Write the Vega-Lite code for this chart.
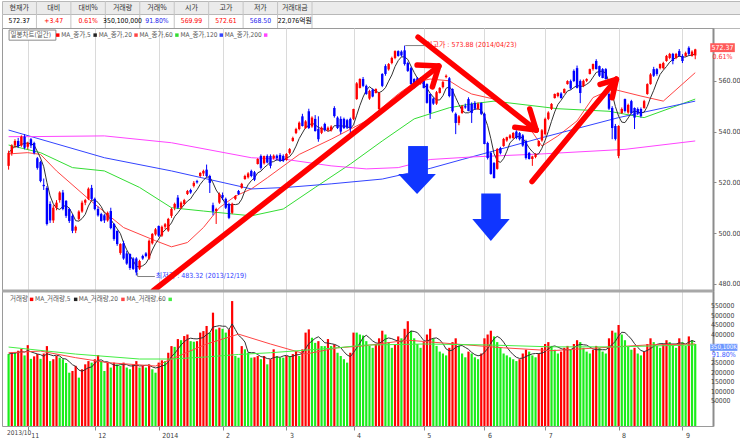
{
"$schema": "https://vega.github.io/schema/vega-lite/v6.json",
"background": "#ffffff",
"padding": 0,
"spacing": 0,
"bounds": "flush",
"resolve": {"scale": {"color": "independent"}},
"config": {
  "font": "Liberation Sans Narrow, DejaVu Sans Condensed, Liberation Sans, Noto Sans CJK KR",
  "view": {"stroke": "#a0a0a0", "strokeWidth": 1},
  "axis": {"title": null, "labelFont": "Liberation Sans Narrow, DejaVu Sans Condensed, Liberation Sans", "labelFontSize": 7, "labelColor": "#404040", "domainColor": "#8c8c8c", "tickColor": "#8c8c8c", "labelOverlap": false},
  "text": {"font": "Liberation Sans Narrow, DejaVu Sans Condensed, Liberation Sans, Noto Sans CJK KR"}
},
"datasets": {
  "k": [
{"i":0,"o":526.5,"h":532.5,"l":525,"c":531.6,"v":297000},
{"i":1,"o":531.5,"h":535,"l":530.5,"c":534.5,"v":305000},
{"i":2,"o":534.5,"h":537,"l":533.5,"c":536.3,"v":305000},
{"i":3,"o":536.3,"h":537.5,"l":533.5,"c":534.3,"v":315000},
{"i":4,"o":534.5,"h":538.5,"l":534,"c":538,"v":324000},
{"i":5,"o":538,"h":539,"l":533,"c":533.6,"v":290000},
{"i":6,"o":534,"h":536,"l":533,"c":535.5,"v":344000},
{"i":7,"o":537,"h":537.5,"l":533.5,"c":534.5,"v":272000},
{"i":8,"o":535.5,"h":536,"l":531,"c":531.6,"v":285000},
{"i":9,"o":529.5,"h":530,"l":525,"c":525.7,"v":297000},
{"i":10,"o":528,"h":528.5,"l":520,"c":520.5,"v":272000},
{"i":11,"o":519,"h":521.5,"l":517,"c":518.5,"v":300000},
{"i":12,"o":517.8,"h":518.5,"l":503,"c":503.6,"v":339000},
{"i":13,"o":511.5,"h":512.5,"l":504,"c":505,"v":260000},
{"i":14,"o":505,"h":511,"l":504,"c":510,"v":270000},
{"i":15,"o":510,"h":513,"l":509,"c":512,"v":287000},
{"i":16,"o":513,"h":516.5,"l":512,"c":516,"v":278000},
{"i":17,"o":516,"h":517,"l":509,"c":509.5,"v":270000},
{"i":18,"o":512.7,"h":513,"l":506,"c":506.8,"v":250000},
{"i":19,"o":509.5,"h":510,"l":504,"c":504.8,"v":199000},
{"i":20,"o":506.8,"h":507.5,"l":500,"c":500.9,"v":208000},
{"i":21,"o":501,"h":503,"l":500,"c":502.5,"v":235000},
{"i":22,"o":505.6,"h":509,"l":505,"c":508.5,"v":173000},
{"i":23,"o":508.5,"h":512.8,"l":508,"c":512,"v":217000},
{"i":24,"o":512,"h":513.5,"l":511,"c":513,"v":243000},
{"i":25,"o":513.5,"h":518,"l":513,"c":517.5,"v":260000},
{"i":26,"o":517.8,"h":519,"l":513,"c":513.5,"v":252000},
{"i":27,"o":513.5,"h":514,"l":509,"c":509.5,"v":270000},
{"i":28,"o":509.5,"h":510.5,"l":506.5,"c":507,"v":292000},
{"i":29,"o":507.5,"h":508,"l":504.5,"c":504.8,"v":260000},
{"i":30,"o":507,"h":507.5,"l":504,"c":505,"v":208000},
{"i":31,"o":505,"h":508.5,"l":504.5,"c":508,"v":252000},
{"i":32,"o":508.7,"h":510,"l":501.5,"c":502,"v":226000},
{"i":33,"o":503.6,"h":504,"l":497,"c":497.7,"v":252000},
{"i":34,"o":500.9,"h":501,"l":495,"c":495.7,"v":243000},
{"i":35,"o":492.2,"h":496,"l":491.5,"c":495.7,"v":235000},
{"i":36,"o":496,"h":497,"l":489.5,"c":490,"v":252000},
{"i":37,"o":492,"h":493,"l":487.5,"c":488,"v":226000},
{"i":38,"o":491.8,"h":492,"l":485.5,"c":486.3,"v":217000},
{"i":39,"o":490,"h":490.5,"l":485.5,"c":485.9,"v":243000},
{"i":40,"o":490,"h":490.5,"l":483.32,"c":484.5,"v":260000},
{"i":41,"o":486,"h":489.5,"l":485.5,"c":489,"v":226000},
{"i":42,"o":491,"h":491.5,"l":489.5,"c":490,"v":235000},
{"i":43,"o":492,"h":492.5,"l":490.5,"c":491,"v":226000},
{"i":44,"o":490,"h":497.5,"l":489.5,"c":497,"v":243000},
{"i":45,"o":496,"h":500,"l":495.5,"c":499.7,"v":217000},
{"i":46,"o":499.5,"h":502,"l":499,"c":501.5,"v":199000},
{"i":47,"o":502.8,"h":503,"l":498.5,"c":499,"v":252000},
{"i":48,"o":499,"h":503,"l":498.5,"c":502.5,"v":264000},
{"i":49,"o":502.5,"h":504,"l":501.5,"c":503.5,"v":260000},
{"i":50,"o":501,"h":506,"l":500.5,"c":505.6,"v":304000},
{"i":51,"o":506.8,"h":510,"l":506,"c":509.5,"v":339000},
{"i":52,"o":510,"h":512,"l":509,"c":511.5,"v":335000},
{"i":53,"o":514,"h":515,"l":509.5,"c":510,"v":376000},
{"i":54,"o":510,"h":512.5,"l":509.5,"c":512,"v":370000},
{"i":55,"o":511.5,"h":513.5,"l":511,"c":513,"v":392000},
{"i":56,"o":515.4,"h":517,"l":515,"c":516.6,"v":400000},
{"i":57,"o":517,"h":517.5,"l":515.5,"c":516,"v":365000},
{"i":58,"o":518.6,"h":520.5,"l":518,"c":519.8,"v":362000},
{"i":59,"o":520.5,"h":521,"l":519.5,"c":520,"v":365000},
{"i":60,"o":522.5,"h":524,"l":522,"c":523.7,"v":410000},
{"i":61,"o":523.5,"h":525,"l":522.5,"c":524.5,"v":418000},
{"i":62,"o":525,"h":527,"l":522,"c":522.5,"v":445000},
{"i":63,"o":522.5,"h":523,"l":515.8,"c":519.8,"v":410000},
{"i":64,"o":511,"h":512,"l":507,"c":508.5,"v":515000},
{"i":65,"o":508.7,"h":510,"l":503.6,"c":509.5,"v":427000},
{"i":66,"o":512,"h":516,"l":511.5,"c":515.4,"v":436000},
{"i":67,"o":515,"h":516,"l":513,"c":514,"v":430000},
{"i":68,"o":513.5,"h":514,"l":509.5,"c":510,"v":410000},
{"i":69,"o":511.5,"h":512,"l":505.5,"c":506,"v":427000},
{"i":70,"o":508,"h":512,"l":507.5,"c":511.5,"v":576000},
{"i":71,"o":513.5,"h":515,"l":513,"c":514.6,"v":287000},
{"i":72,"o":516.6,"h":517,"l":515,"c":515.4,"v":278000},
{"i":73,"o":517.8,"h":519.8,"l":517.5,"c":519.4,"v":339000},
{"i":74,"o":521.3,"h":523,"l":521,"c":522.5,"v":322000},
{"i":75,"o":522,"h":524,"l":521.5,"c":523.5,"v":304000},
{"i":76,"o":524.5,"h":525,"l":522,"c":522.5,"v":278000},
{"i":77,"o":524,"h":524.5,"l":520.5,"c":521,"v":280000},
{"i":78,"o":527.2,"h":529.5,"l":527,"c":529.2,"v":287000},
{"i":79,"o":530.4,"h":531,"l":525,"c":525.7,"v":270000},
{"i":80,"o":527.5,"h":530.5,"l":527,"c":530.4,"v":287000},
{"i":81,"o":530.4,"h":531,"l":527.5,"c":527.8,"v":243000},
{"i":82,"o":530.4,"h":531,"l":525.5,"c":526.5,"v":270000},
{"i":83,"o":529.5,"h":531,"l":529,"c":530.5,"v":322000},
{"i":84,"o":530.5,"h":531,"l":528.5,"c":529.5,"v":287000},
{"i":85,"o":530.8,"h":531.5,"l":528,"c":528.4,"v":278000},
{"i":86,"o":530.4,"h":531,"l":528,"c":528.5,"v":278000},
{"i":87,"o":528.8,"h":531.5,"l":528.5,"c":531.2,"v":287000},
{"i":88,"o":531.6,"h":533.5,"l":531,"c":533.1,"v":287000},
{"i":89,"o":536.3,"h":538,"l":536,"c":537.5,"v":297000},
{"i":90,"o":539.4,"h":541.5,"l":539,"c":541,"v":313000},
{"i":91,"o":541,"h":544,"l":540.5,"c":543.5,"v":287000},
{"i":92,"o":546,"h":547,"l":542,"c":542.2,"v":322000},
{"i":93,"o":541.4,"h":544.5,"l":541,"c":544,"v":410000},
{"i":94,"o":548,"h":549,"l":541,"c":541.4,"v":427000},
{"i":95,"o":542,"h":546,"l":541.5,"c":545.5,"v":383000},
{"i":96,"o":545,"h":546.5,"l":540,"c":540.2,"v":356000},
{"i":97,"o":541,"h":546,"l":536,"c":537,"v":365000},
{"i":98,"o":539.5,"h":542,"l":539,"c":541.5,"v":339000},
{"i":99,"o":543,"h":543.5,"l":540,"c":540.5,"v":339000},
{"i":100,"o":540.5,"h":542,"l":540,"c":541.5,"v":376000},
{"i":101,"o":540.5,"h":542.5,"l":540,"c":542,"v":339000},
{"i":102,"o":549.3,"h":550,"l":545.5,"c":546.1,"v":348000},
{"i":103,"o":545.5,"h":546,"l":541,"c":541.4,"v":304000},
{"i":104,"o":545,"h":546,"l":539,"c":540,"v":287000},
{"i":105,"o":545,"h":545.5,"l":541,"c":541.4,"v":270000},
{"i":106,"o":544.5,"h":545,"l":541,"c":541.5,"v":252000},
{"i":107,"o":545,"h":545.5,"l":539,"c":541.4,"v":304000},
{"i":108,"o":545,"h":549,"l":544.5,"c":548.9,"v":410000},
{"i":109,"o":552.8,"h":559.5,"l":552.5,"c":559,"v":410000},
{"i":110,"o":557.2,"h":561,"l":557,"c":560.7,"v":400000},
{"i":111,"o":560.7,"h":561.5,"l":557.5,"c":558,"v":395000},
{"i":112,"o":558,"h":558.5,"l":554.5,"c":554.8,"v":365000},
{"i":113,"o":553,"h":556.5,"l":552.5,"c":556,"v":340000},
{"i":114,"o":556.5,"h":557,"l":553.5,"c":553.8,"v":330000},
{"i":115,"o":555.2,"h":557,"l":555,"c":556.8,"v":350000},
{"i":116,"o":548.9,"h":555.5,"l":548,"c":555.2,"v":380000},
{"i":117,"o":562.7,"h":563,"l":557.5,"c":558,"v":420000},
{"i":118,"o":565.8,"h":566.5,"l":562,"c":562.7,"v":400000},
{"i":119,"o":564.5,"h":567,"l":564,"c":566.6,"v":360000},
{"i":120,"o":567,"h":569.5,"l":566.5,"c":569,"v":330000},
{"i":121,"o":569,"h":572,"l":568.5,"c":571.7,"v":345000},
{"i":122,"o":571.7,"h":572,"l":569.5,"c":569.8,"v":390000},
{"i":123,"o":571.5,"h":572,"l":569.5,"c":570,"v":380000},
{"i":124,"o":572,"h":573.88,"l":566,"c":566.6,"v":430000},
{"i":125,"o":567,"h":567.5,"l":563.5,"c":563.9,"v":470000},
{"i":126,"o":565,"h":565.5,"l":558.5,"c":558.7,"v":420000},
{"i":127,"o":560.7,"h":561,"l":557,"c":557.2,"v":380000},
{"i":128,"o":561,"h":561.5,"l":558.5,"c":558.7,"v":350000},
{"i":129,"o":559,"h":561.5,"l":558.5,"c":561,"v":330000},
{"i":130,"o":560,"h":560.5,"l":557,"c":557.2,"v":360000},
{"i":131,"o":558.7,"h":559,"l":551,"c":551.3,"v":400000},
{"i":132,"o":554.8,"h":555,"l":545,"c":547.3,"v":430000},
{"i":133,"o":553,"h":553.5,"l":550.5,"c":551,"v":380000},
{"i":134,"o":551,"h":556,"l":550.5,"c":555.5,"v":340000},
{"i":135,"o":555.2,"h":557.5,"l":555,"c":557.2,"v":310000},
{"i":136,"o":557.5,"h":560,"l":557,"c":559.5,"v":300000},
{"i":137,"o":561.5,"h":562.5,"l":561,"c":562,"v":290000},
{"i":138,"o":561,"h":561.5,"l":553.5,"c":554,"v":330000},
{"i":139,"o":556.8,"h":557,"l":547.5,"c":548,"v":360000},
{"i":140,"o":547,"h":547.5,"l":539,"c":543.4,"v":380000},
{"i":141,"o":543.4,"h":546.5,"l":542.5,"c":546,"v":340000},
{"i":142,"o":547.3,"h":550.5,"l":547,"c":550,"v":300000},
{"i":143,"o":550,"h":551,"l":549,"c":549.5,"v":280000},
{"i":144,"o":552.8,"h":553.5,"l":548,"c":548.1,"v":310000},
{"i":145,"o":550.9,"h":551.5,"l":543.4,"c":547.3,"v":300000},
{"i":146,"o":551.3,"h":552,"l":548.5,"c":549,"v":280000},
{"i":147,"o":549,"h":551.5,"l":548.5,"c":551,"v":270000},
{"i":148,"o":551.3,"h":551.5,"l":546.5,"c":547,"v":300000},
{"i":149,"o":547,"h":547.5,"l":535,"c":535.1,"v":380000},
{"i":150,"o":535.5,"h":536,"l":529,"c":529.6,"v":400000},
{"i":151,"o":531.6,"h":532,"l":523,"c":523.3,"v":420000},
{"i":152,"o":527.6,"h":528,"l":521.5,"c":521.7,"v":390000},
{"i":153,"o":525.3,"h":533.5,"l":525,"c":533.1,"v":360000},
{"i":154,"o":533.5,"h":534,"l":531,"c":531.5,"v":330000},
{"i":155,"o":534.3,"h":537.5,"l":534,"c":537.1,"v":300000},
{"i":156,"o":536.5,"h":538,"l":536,"c":537.8,"v":290000},
{"i":157,"o":537.5,"h":539,"l":537,"c":538.5,"v":280000},
{"i":158,"o":537.5,"h":539.8,"l":537,"c":539.4,"v":270000},
{"i":159,"o":540,"h":540.5,"l":537,"c":537.5,"v":260000},
{"i":160,"o":539.4,"h":539.8,"l":536.5,"c":537,"v":270000},
{"i":161,"o":538.5,"h":539,"l":534,"c":534.5,"v":300000},
{"i":162,"o":536.3,"h":536.8,"l":529,"c":529.6,"v":320000},
{"i":163,"o":531.6,"h":532,"l":529,"c":529.2,"v":310000},
{"i":164,"o":529.2,"h":530.5,"l":526.5,"c":530.2,"v":290000},
{"i":165,"o":530,"h":531.5,"l":529.5,"c":531,"v":280000},
{"i":166,"o":534.3,"h":536.5,"l":534,"c":536.3,"v":300000},
{"i":167,"o":536.5,"h":541,"l":536,"c":540.5,"v":330000},
{"i":168,"o":539,"h":545.5,"l":538.5,"c":545,"v":350000},
{"i":169,"o":545,"h":548,"l":544.5,"c":547.5,"v":360000},
{"i":170,"o":548.9,"h":551.2,"l":548.5,"c":550.9,"v":340000},
{"i":171,"o":553.2,"h":555,"l":553,"c":554.8,"v":320000},
{"i":172,"o":554,"h":555.5,"l":553.5,"c":555.2,"v":300000},
{"i":173,"o":555,"h":555.5,"l":553,"c":553.2,"v":310000},
{"i":174,"o":555.2,"h":557,"l":555,"c":556.8,"v":330000},
{"i":175,"o":558.7,"h":560.2,"l":558.5,"c":559.9,"v":340000},
{"i":176,"o":559.9,"h":560.5,"l":556.5,"c":557,"v":320000},
{"i":177,"o":563.9,"h":564.5,"l":559.5,"c":559.9,"v":350000},
{"i":178,"o":565,"h":566,"l":557,"c":557.2,"v":370000},
{"i":179,"o":559.9,"h":560.5,"l":551.2,"c":555.2,"v":360000},
{"i":180,"o":558,"h":560.5,"l":557.5,"c":560,"v":330000},
{"i":181,"o":560,"h":561,"l":559.5,"c":560.7,"v":310000},
{"i":182,"o":562.7,"h":564.8,"l":562.5,"c":564.6,"v":300000},
{"i":183,"o":564.6,"h":566.8,"l":564,"c":566.6,"v":320000},
{"i":184,"o":567.8,"h":568.5,"l":564.5,"c":564.6,"v":340000},
{"i":185,"o":565.8,"h":566,"l":561.5,"c":562,"v":330000},
{"i":186,"o":564.6,"h":565,"l":561,"c":561.1,"v":310000},
{"i":187,"o":564.6,"h":565,"l":560.5,"c":560.7,"v":300000},
{"i":188,"o":554.8,"h":555.5,"l":548.5,"c":549,"v":380000},
{"i":189,"o":549.3,"h":550,"l":537,"c":541.4,"v":420000},
{"i":190,"o":542.2,"h":543,"l":536.5,"c":537.1,"v":410000},
{"i":191,"o":530.4,"h":542.5,"l":529.5,"c":542.2,"v":450000},
{"i":192,"o":547.3,"h":549.5,"l":547,"c":548.9,"v":400000},
{"i":193,"o":552.8,"h":553,"l":547.5,"c":548.1,"v":370000},
{"i":194,"o":547.5,"h":551,"l":547,"c":550.5,"v":340000},
{"i":195,"o":552,"h":552.5,"l":547,"c":547.3,"v":320000},
{"i":196,"o":549.3,"h":549.5,"l":541,"c":545.5,"v":330000},
{"i":197,"o":548.9,"h":549.5,"l":546.5,"c":547.3,"v":300000},
{"i":198,"o":548.9,"h":549.5,"l":545.5,"c":546.1,"v":290000},
{"i":199,"o":549.3,"h":552.5,"l":549,"c":552,"v":310000},
{"i":200,"o":554.8,"h":559,"l":554.5,"c":558.7,"v":350000},
{"i":201,"o":558.7,"h":563,"l":558.5,"c":562.5,"v":380000},
{"i":202,"o":564.6,"h":565.5,"l":561.5,"c":562,"v":360000},
{"i":203,"o":564.6,"h":565,"l":562,"c":562.7,"v":340000},
{"i":204,"o":565,"h":566.8,"l":564.5,"c":566.6,"v":330000},
{"i":205,"o":565,"h":567.5,"l":564.5,"c":567,"v":350000},
{"i":206,"o":567.8,"h":570.2,"l":567.5,"c":569.8,"v":370000},
{"i":207,"o":569,"h":571,"l":568.5,"c":570.6,"v":360000},
{"i":208,"o":570.6,"h":571,"l":566.5,"c":567.8,"v":340000},
{"i":209,"o":569,"h":571,"l":568.5,"c":570.6,"v":330000},
{"i":210,"o":571.7,"h":572.5,"l":569.5,"c":569.8,"v":380000},
{"i":211,"o":569.8,"h":570.5,"l":567,"c":567.8,"v":360000},
{"i":212,"o":569.8,"h":571.5,"l":569.5,"c":571,"v":340000},
{"i":213,"o":573,"h":573.6,"l":570,"c":570.6,"v":390000},
{"i":214,"o":569.8,"h":572,"l":569.5,"c":571.5,"v":370000},
{"i":215,"o":569.99,"h":572.61,"l":568.5,"c":572.37,"v":350100}
  ],
  "ma": [
{"s":"ma20","i":0,"p":531.2},{"s":"ma20","i":6,"p":531.7},{"s":"ma20","i":10,"p":531},{"s":"ma20","i":15,"p":524.5},{"s":"ma20","i":25,"p":513.5},{"s":"ma20","i":36,"p":502.2},{"s":"ma20","i":46,"p":497},{"s":"ma20","i":51,"p":494.6},{"s":"ma20","i":56,"p":496.3},{"s":"ma20","i":61,"p":502.2},{"s":"ma20","i":66,"p":510},{"s":"ma20","i":71,"p":514.6},{"s":"ma20","i":76,"p":517.4},{"s":"ma20","i":81,"p":521.8},{"s":"ma20","i":91,"p":531},{"s":"ma20","i":101,"p":537},{"s":"ma20","i":112,"p":544.2},{"s":"ma20","i":122,"p":554.8},{"s":"ma20","i":127,"p":559.3},{"s":"ma20","i":132,"p":560.7},{"s":"ma20","i":138,"p":560},{"s":"ma20","i":142,"p":556.8},{"s":"ma20","i":145,"p":554.8},{"s":"ma20","i":152,"p":552.8},{"s":"ma20","i":162,"p":543.5},{"s":"ma20","i":167,"p":534.3},{"s":"ma20","i":172,"p":538.3},{"s":"ma20","i":178,"p":544.2},{"s":"ma20","i":183,"p":553.4},{"s":"ma20","i":189,"p":556.8},{"s":"ma20","i":198,"p":554},{"s":"ma20","i":205,"p":552},{"s":"ma20","i":215,"p":563.2},
{"s":"ma60","i":0,"p":534.7},{"s":"ma60","i":10,"p":531.7},{"s":"ma60","i":20,"p":525.8},{"s":"ma60","i":30,"p":524.5},{"s":"ma60","i":41,"p":518},{"s":"ma60","i":51,"p":510},{"s":"ma60","i":61,"p":508.7},{"s":"ma60","i":76,"p":506.8},{"s":"ma60","i":86,"p":509.5},{"s":"ma60","i":96,"p":518},{"s":"ma60","i":107,"p":527.2},{"s":"ma60","i":117,"p":536.3},{"s":"ma60","i":127,"p":545},{"s":"ma60","i":138,"p":549.4},{"s":"ma60","i":145,"p":550.9},{"s":"ma60","i":152,"p":552},{"s":"ma60","i":162,"p":550.5},{"s":"ma60","i":172,"p":549},{"s":"ma60","i":188,"p":548},{"s":"ma60","i":199,"p":545.5},{"s":"ma60","i":215,"p":552.8},
{"s":"ma120","i":0,"p":540.6},{"s":"ma120","i":30,"p":529.7},{"s":"ma120","i":51,"p":524.5},{"s":"ma120","i":76,"p":517.4},{"s":"ma120","i":87,"p":518},{"s":"ma120","i":101,"p":519.4},{"s":"ma120","i":117,"p":521.3},{"s":"ma120","i":132,"p":525.5},{"s":"ma120","i":142,"p":529},{"s":"ma120","i":152,"p":532.4},{"s":"ma120","i":167,"p":537.6},{"s":"ma120","i":191,"p":545.5},{"s":"ma120","i":215,"p":552},
{"s":"ma200","i":0,"p":538},{"s":"ma200","i":6,"p":538},{"s":"ma200","i":30,"p":538.3},{"s":"ma200","i":51,"p":535.6},{"s":"ma200","i":76,"p":529.7},{"s":"ma200","i":87,"p":529},{"s":"ma200","i":101,"p":526.5},{"s":"ma200","i":112,"p":525.3},{"s":"ma200","i":122,"p":525.8},{"s":"ma200","i":132,"p":529},{"s":"ma200","i":145,"p":530},{"s":"ma200","i":167,"p":531.2},{"s":"ma200","i":193,"p":533},{"s":"ma200","i":215,"p":536.3}
  ],
  "vma": [
{"s":"vma20","i":0,"v":304000},{"s":"vma20","i":10,"v":313000},{"s":"vma20","i":21,"v":278000},{"s":"vma20","i":31,"v":252000},{"s":"vma20","i":46,"v":234000},{"s":"vma20","i":51,"v":271000},{"s":"vma20","i":62,"v":350000},{"s":"vma20","i":72,"v":402000},{"s":"vma20","i":82,"v":350000},{"s":"vma20","i":93,"v":297000},{"s":"vma20","i":103,"v":330000},{"s":"vma20","i":111,"v":340000},{"s":"vma20","i":125,"v":370000},{"s":"vma20","i":140,"v":350000},{"s":"vma20","i":155,"v":330000},{"s":"vma20","i":170,"v":315000},{"s":"vma20","i":185,"v":330000},{"s":"vma20","i":200,"v":345000},{"s":"vma20","i":215,"v":350000},
{"s":"vma60","i":0,"v":334000},{"s":"vma60","i":21,"v":297000},{"s":"vma60","i":41,"v":271000},{"s":"vma60","i":51,"v":271000},{"s":"vma60","i":62,"v":282000},{"s":"vma60","i":72,"v":295000},{"s":"vma60","i":82,"v":304000},{"s":"vma60","i":103,"v":330000},{"s":"vma60","i":111,"v":344000},{"s":"vma60","i":130,"v":350000},{"s":"vma60","i":150,"v":345000},{"s":"vma60","i":170,"v":335000},{"s":"vma60","i":190,"v":335000},{"s":"vma60","i":215,"v":345000}
  ],
  "vticks": [{"v":50000},{"v":100000},{"v":150000},{"v":200000},{"v":250000},{"v":400000},{"v":450000},{"v":500000},{"v":550000}],
  "arrows": [
{"g":"a1s","o":1,"i":45.3,"p":477.3},{"g":"a1s","o":2,"i":134.7,"p":565.8},
{"g":"a1a","o":1,"i":134.7,"p":565.8},{"g":"a1a","o":2,"i":127.9,"p":566.2},
{"g":"a1b","o":1,"i":134.7,"p":565.8},{"g":"a1b","o":2,"i":132.7,"p":557.6},
{"g":"a2s","o":1,"i":128.2,"p":577.2},{"g":"a2s","o":2,"i":165.2,"p":540.6},
{"g":"a2a","o":1,"i":165.2,"p":540.6},{"g":"a2a","o":2,"i":158.5,"p":541.7},
{"g":"a2b","o":1,"i":165.2,"p":540.6},{"g":"a2b","o":2,"i":163.2,"p":548.9},
{"g":"a3s","o":1,"i":163.9,"p":520.3},{"g":"a3s","o":2,"i":190.3,"p":560.6},
{"g":"a3a","o":1,"i":190.3,"p":560.6},{"g":"a3a","o":2,"i":185.2,"p":558.6},
{"g":"a3b","o":1,"i":190.3,"p":560.6},{"g":"a3b","o":2,"i":189.0,"p":553.3}
  ],
  "bshaft": [
{"g":"b1","i":125.1,"i2":131.3,"p":534.3,"p2":523.0},
{"g":"b2","i":148.0,"i2":154.1,"p":515.6,"p2":505.4}
  ],
  "bhead": [
{"g":"b1","i":122.0,"p":523.3,"p2":523.3},{"g":"b1","i":127.9,"p":523.3,"p2":515.4},{"g":"b1","i":133.8,"p":523.3,"p2":523.3},
{"g":"b2","i":145.2,"p":505.6,"p2":505.6},{"g":"b2","i":151.0,"p":505.6,"p2":496.9},{"g":"b2","i":156.9,"p":505.6,"p2":505.6}
  ]
},
"vconcat": [
  {
    "width": 740, "height": 13,
    "view": {"fill": "#ebebeb", "stroke": "#b8b8b8"},
    "data": {"values": [{"k":"현재가"},{"k":"대비"},{"k":"대비%"},{"k":"거래량"},{"k":"거래%"},{"k":"시가"},{"k":"고가"},{"k":"저가"},{"k":"거래대금"}]},
    "layer": [
      {"mark": {"type": "rule", "color": "#c4c4c4"},
       "encoding": {"x": {"field": "k", "type": "nominal", "bandPosition": 1, "sort": null, "scale": {"range": [0, 310], "paddingInner": 0, "paddingOuter": 0}, "axis": null}}},
      {"mark": {"type": "text", "fontSize": 7, "color": "#303030", "font": "Noto Sans CJK KR"},
       "encoding": {"x": {"field": "k", "type": "nominal", "sort": null, "axis": null}, "text": {"field": "k"}}}
    ]
  },
  {
    "width": 740, "height": 14,
    "view": {"fill": "#ffffff", "stroke": "#b8b8b8"},
    "data": {"values": [{"k":"현재가","t":"572.37"},{"k":"대비","t":"+3.47"},{"k":"대비%","t":"0.61%"},{"k":"거래량","t":"350,100,000"},{"k":"거래%","t":"91.80%"},{"k":"시가","t":"569.99"},{"k":"고가","t":"572.61"},{"k":"저가","t":"568.50"},{"k":"거래대금","t":"22,076억원"}]},
    "layer": [
      {"mark": {"type": "rule", "color": "#c4c4c4"},
       "encoding": {"x": {"field": "k", "type": "nominal", "bandPosition": 1, "sort": null, "scale": {"range": [0, 310], "paddingInner": 0, "paddingOuter": 0}, "axis": null}}},
      {"mark": {"type": "text", "fontSize": 6.8},
       "encoding": {"x": {"field": "k", "type": "nominal", "sort": null, "axis": null}, "text": {"field": "t"},
         "color": {"field": "k", "type": "nominal", "legend": null, "scale": {"domain": ["현재가","대비","대비%","거래량","거래%","시가","고가","저가","거래대금"], "range": ["#000000","#ff0000","#ff0000","#000000","#2222ee","#ff0000","#ff0000","#2222ee","#000000"]}}}}
    ]
  },
  {
    "width": 711, "height": 263,
    "view": {"stroke": "#9a9a9a"},
    "layer": [
      {"data": {"name": "ma"}, "mark": {"type": "line", "strokeWidth": 1},
       "encoding": {
         "x": {"field": "i", "type": "quantitative", "scale": {"domain": [-0.5, 219], "nice": false, "zero": false},
               "axis": {"orient": "bottom", "values": [6,27,47,67,87,108,130,149,168,191,211], "grid": true, "gridColor": "#dadada", "labels": false, "ticks": false, "domain": false}},
         "y": {"field": "p", "type": "quantitative", "scale": {"domain": [477.2, 580.8], "nice": false, "zero": false},
               "axis": {"orient": "right", "values": [480,490,500,510,520,530,540,550,560], "format": ".2f", "grid": false, "tickSize": 3, "labelPadding": 2, "domainWidth": 2, "labelOverlap": false}},
         "color": {"field": "s", "type": "nominal", "legend": null, "scale": {"domain": ["candle","ma5","ma20","ma60","ma120","ma200"], "range": ["#ff0000","#222222","#ff4444","#33dd33","#3344ff","#ff44ff"]}},
         "detail": {"field": "s"}
       }},
      {"data": {"name": "k"},
       "transform": [{"window": [{"op": "mean", "field": "c", "as": "m5"}], "frame": [-4, 0], "sort": [{"field": "i"}]}],
       "mark": {"type": "line", "strokeWidth": 1, "color": "#333333"},
       "encoding": {"x": {"field": "i", "type": "quantitative"}, "y": {"field": "m5", "type": "quantitative"}}},
      {"data": {"name": "k"}, "mark": {"type": "rule", "strokeWidth": 1},
       "encoding": {"x": {"field": "i", "type": "quantitative"}, "y": {"field": "l", "type": "quantitative"}, "y2": {"field": "h"},
         "color": {"condition": {"test": "datum.c >= datum.o", "value": "#ff0000"}, "value": "#0000ff"}}},
      {"data": {"name": "k"}, "mark": {"type": "bar", "size": 2.4},
       "encoding": {"x": {"field": "i", "type": "quantitative"}, "y": {"field": "o", "type": "quantitative"}, "y2": {"field": "c"},
         "color": {"condition": {"test": "datum.c >= datum.o", "value": "#ff0000"}, "value": "#0000ff"}}},
      {"data": {"name": "bshaft"}, "mark": {"type": "rect", "color": "#1035ff"},
       "encoding": {"x": {"field": "i", "type": "quantitative"}, "x2": {"field": "i2"}, "y": {"field": "p", "type": "quantitative"}, "y2": {"field": "p2"}}},
      {"data": {"name": "bhead"}, "mark": {"type": "area", "color": "#1035ff", "opacity": 1},
       "encoding": {"x": {"field": "i", "type": "quantitative"}, "y": {"field": "p", "type": "quantitative"}, "y2": {"field": "p2"}, "detail": {"field": "g"}}},
      {"data": {"values": [{"g":"hi","o":1,"i":124.2,"p":573.88},{"g":"hi","o":2,"i":130.2,"p":573.88},{"g":"lo","o":1,"i":40.4,"p":484.4},{"g":"lo","o":2,"i":40.4,"p":482.9},{"g":"lo","o":3,"i":45.8,"p":482.9}]},
       "mark": {"type": "line", "color": "#808080", "strokeWidth": 1},
       "encoding": {"x": {"field": "i", "type": "quantitative"}, "y": {"field": "p", "type": "quantitative"}, "detail": {"field": "g"}, "order": {"field": "o"}}},
      {"data": {"values": [{"t":"최고가 : 573.88 (2014/04/23)","i":130.7,"p":574.0}]},
       "mark": {"type": "text", "fontSize": 7, "align": "left", "baseline": "middle", "color": "#ff2020"},
       "encoding": {"x": {"field": "i", "type": "quantitative"}, "y": {"field": "p", "type": "quantitative"}, "text": {"field": "t"}}},
      {"data": {"values": [{"t":"최저가 : 483.32 (2013/12/19)","i":46.1,"p":483.2}]},
       "mark": {"type": "text", "fontSize": 7, "align": "left", "baseline": "middle", "color": "#3040ff"},
       "encoding": {"x": {"field": "i", "type": "quantitative"}, "y": {"field": "p", "type": "quantitative"}, "text": {"field": "t"}}},
      {"data": {"name": "arrows"}, "mark": {"type": "line", "color": "#ff0000", "strokeWidth": 5.5, "strokeCap": "round", "clip": true},
       "encoding": {"x": {"field": "i", "type": "quantitative"}, "y": {"field": "p", "type": "quantitative"}, "detail": {"field": "g"}, "order": {"field": "o"}}},
      {"data": {"values": [{"i":0.15,"i2":14.8,"p":580.0,"p2":576.0}]},
       "mark": {"type": "rect", "fill": "#ffffff", "stroke": "#8c8c8c", "strokeWidth": 1},
       "encoding": {"x": {"field": "i", "type": "quantitative"}, "x2": {"field": "i2"}, "y": {"field": "p", "type": "quantitative"}, "y2": {"field": "p2"}}},
      {"data": {"values": [{"t":"일봉차트(일간)","i":0.59},{"t":"MA_종가,5","i":16.5},{"t":"MA_종가,20","i":28.2},{"t":"MA_종가,60","i":41.0},{"t":"MA_종가,120","i":53.8},{"t":"MA_종가,200","i":67.7}]},
       "mark": {"type": "text", "fontSize": 6.5, "align": "left", "baseline": "middle", "color": "#555555"},
       "encoding": {"x": {"field": "i", "type": "quantitative"}, "y": {"datum": 578.0, "type": "quantitative"}, "text": {"field": "t"}}},
      {"data": {"values": [{"s":"candle","i":15.4},{"s":"ma5","i":27.1},{"s":"ma20","i":39.9},{"s":"ma60","i":52.7},{"s":"ma120","i":66.6},{"s":"ma200","i":80.5}]},
       "mark": {"type": "point", "shape": "square", "filled": true, "size": 12, "opacity": 1},
       "encoding": {"x": {"field": "i", "type": "quantitative"}, "y": {"datum": 578.0, "type": "quantitative"}, "color": {"field": "s", "type": "nominal", "legend": null}}},
      {"data": {"values": [{"i":219.7,"i2":227.4,"p":574.8,"p2":571.3}]},
       "mark": {"type": "rect", "fill": "#ff5a5a"},
       "encoding": {"x": {"field": "i", "type": "quantitative"}, "x2": {"field": "i2"}, "y": {"field": "p", "type": "quantitative"}, "y2": {"field": "p2"}}},
      {"data": {"values": [{"t":"572.37","i":223.55,"p":573.05}]},
       "mark": {"type": "text", "fontSize": 7, "align": "center", "baseline": "middle", "color": "#ffffff"},
       "encoding": {"x": {"field": "i", "type": "quantitative"}, "y": {"field": "p", "type": "quantitative"}, "text": {"field": "t"}}},
      {"data": {"values": [{"t":"0.61%","i":223.55,"p":569.2}]},
       "mark": {"type": "text", "fontSize": 7, "align": "center", "baseline": "middle", "color": "#ff3030"},
       "encoding": {"x": {"field": "i", "type": "quantitative"}, "y": {"field": "p", "type": "quantitative"}, "text": {"field": "t"}}}
    ]
  },
  {
    "width": 711, "height": 135,
    "view": {"stroke": "#9a9a9a"},
    "layer": [
      {"data": {"name": "k"},
       "transform": [{"window": [{"op": "lag", "field": "v", "as": "pv"}], "sort": [{"field": "i"}]}],
       "mark": {"type": "bar", "size": 2.2},
       "encoding": {
         "x": {"field": "i", "type": "quantitative", "scale": {"domain": [-0.5, 219], "nice": false, "zero": false},
               "axis": {"orient": "bottom", "values": [6,27,47,67,87,108,130,149,168,191,211], "grid": true, "gridColor": "#dadada", "tickSize": 4, "labelAlign": "left", "labelOffset": 3, "labelPadding": 1, "domain": false, "labelOverlap": false,
                        "labelExpr": "datum.value == 6 ? '11' : datum.value == 27 ? '12' : datum.value == 47 ? '2014' : datum.value == 67 ? '2' : datum.value == 87 ? '3' : datum.value == 108 ? '4' : datum.value == 130 ? '5' : datum.value == 149 ? '6' : datum.value == 168 ? '7' : datum.value == 191 ? '8' : '9'"}},
         "y": {"field": "v", "type": "quantitative", "scale": {"domain": [-81560, 629000], "nice": false, "zero": false},
               "axis": {"orient": "right", "values": [50000,100000,150000,200000,250000,300000,350000,400000,450000,500000,550000], "labels": false, "grid": false, "tickSize": 2, "domainWidth": 2}},
         "y2": {"datum": -81560},
         "color": {"condition": {"test": "datum.pv != null && datum.v > datum.pv", "value": "#ff0000"}, "value": "#1aee1a"}
       }},
      {"data": {"name": "k"},
       "transform": [{"window": [{"op": "mean", "field": "v", "as": "vm5"}], "frame": [-4, 0], "sort": [{"field": "i"}]}],
       "mark": {"type": "line", "strokeWidth": 1, "color": "#333333"},
       "encoding": {"x": {"field": "i", "type": "quantitative"}, "y": {"field": "vm5", "type": "quantitative"}}},
      {"data": {"name": "vma"}, "mark": {"type": "line", "strokeWidth": 1},
       "encoding": {"x": {"field": "i", "type": "quantitative"}, "y": {"field": "v", "type": "quantitative"},
         "color": {"field": "s", "type": "nominal", "legend": null, "scale": {"domain": ["vol","vma5","vma20","vma60"], "range": ["#ff0000","#222222","#ff4444","#44ee44"]}}, "detail": {"field": "s"}}},
      {"data": {"values": [{"v":629000}]}, "mark": {"type": "rule", "color": "#a8a8a8", "strokeWidth": 3},
       "encoding": {"y": {"field": "v", "type": "quantitative"}}},
      {"data": {"name": "vticks"},
       "mark": {"type": "text", "fontSize": 6.8, "align": "left", "baseline": "middle", "color": "#404040", "font": "Liberation Sans Narrow, DejaVu Sans Condensed, Liberation Sans"},
       "encoding": {"x": {"datum": 219.95, "type": "quantitative"}, "y": {"field": "v", "type": "quantitative"}, "text": {"field": "v", "type": "quantitative", "format": "d"}}},
      {"data": {"values": [{"t":"거래량","i":0.43},{"t":"MA_거래량,5","i":8.3},{"t":"MA_거래량,20","i":22.0},{"t":"MA_거래량,60","i":36.9}]},
       "mark": {"type": "text", "fontSize": 6.5, "align": "left", "baseline": "middle", "color": "#555555"},
       "encoding": {"x": {"field": "i", "type": "quantitative"}, "y": {"datum": 585000, "type": "quantitative"}, "text": {"field": "t"}}},
      {"data": {"values": [{"s":"vol","i":7.2},{"s":"vma5","i":21.0},{"s":"vma20","i":35.8},{"s":"vma60","i":50.6}]},
       "mark": {"type": "point", "shape": "square", "filled": true, "size": 12, "opacity": 1},
       "encoding": {"x": {"field": "i", "type": "quantitative"}, "y": {"datum": 585000, "type": "quantitative"}, "color": {"field": "s", "type": "nominal", "legend": null}}},
      {"data": {"values": [{"i":219.7,"i2":228.2,"v":351000,"v2":314000}]},
       "mark": {"type": "rect", "fill": "#6e98ff"},
       "encoding": {"x": {"field": "i", "type": "quantitative"}, "x2": {"field": "i2"}, "y": {"field": "v", "type": "quantitative"}, "y2": {"field": "v2"}}},
      {"data": {"values": [{"t":"350,100K","i":223.9,"v":332500}]},
       "mark": {"type": "text", "fontSize": 6.2, "align": "center", "baseline": "middle", "color": "#ffffff"},
       "encoding": {"x": {"field": "i", "type": "quantitative"}, "y": {"field": "v", "type": "quantitative"}, "text": {"field": "t"}}},
      {"data": {"values": [{"i":219.7,"i2":228.2,"v":308000,"v2":280000}]},
       "mark": {"type": "rect", "fill": "#ffffff"},
       "encoding": {"x": {"field": "i", "type": "quantitative"}, "x2": {"field": "i2"}, "y": {"field": "v", "type": "quantitative"}, "y2": {"field": "v2"}}},
      {"data": {"values": [{"t":"91.80%","i":223.9,"v":294000}]},
       "mark": {"type": "text", "fontSize": 7, "align": "center", "baseline": "middle", "color": "#3355ff"},
       "encoding": {"x": {"field": "i", "type": "quantitative"}, "y": {"field": "v", "type": "quantitative"}, "text": {"field": "t"}}},
      {"data": {"values": [{"t":"2013/10","i":-0.5,"v":-121000}]},
       "mark": {"type": "text", "fontSize": 6.5, "align": "left", "baseline": "middle", "color": "#404040"},
       "encoding": {"x": {"field": "i", "type": "quantitative"}, "y": {"field": "v", "type": "quantitative"}, "text": {"field": "t"}}}
    ]
  }
]
}
